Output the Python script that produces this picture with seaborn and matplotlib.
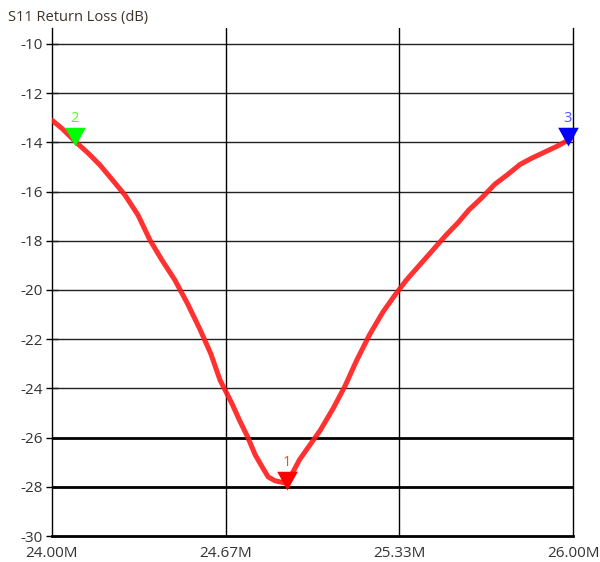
import matplotlib
matplotlib.use("Agg")
import matplotlib.pyplot as plt
import seaborn as sns
import pandas as pd
from matplotlib.path import Path
from matplotlib.markers import MarkerStyle

# S11 sweep, frequency in MHz, return loss in dB
freq_mhz = [24.000, 24.040, 24.088, 24.140, 24.184, 24.230, 24.280, 24.330, 24.376,
            24.420, 24.472, 24.520, 24.568, 24.610, 24.645, 24.690, 24.720, 24.750,
            24.780, 24.810, 24.830, 24.855, 24.875, 24.898, 24.925, 24.950, 24.990,
            25.030, 25.080, 25.125, 25.170, 25.220, 25.270, 25.317, 25.360, 25.410,
            25.460, 25.510, 25.560, 25.600, 25.650, 25.700, 25.750, 25.796, 25.840,
            25.890, 25.940, 26.000]
s11_db = [-13.10, -13.45, -13.95, -14.45, -14.92, -15.50, -16.14, -16.95, -17.97,
          -18.75, -19.60, -20.55, -21.60, -22.60, -23.66, -24.60, -25.30, -25.95,
          -26.70, -27.25, -27.60, -27.75, -27.80, -27.85, -27.40, -26.90, -26.30,
          -25.70, -24.80, -23.90, -22.85, -21.80, -20.90, -20.20, -19.60, -19.00,
          -18.40, -17.80, -17.25, -16.75, -16.25, -15.70, -15.30, -14.90, -14.65,
          -14.40, -14.15, -13.80]

marker_ids = ["1", "2", "3"]
marker_freq = [24.902, 24.088, 25.980]
marker_db = [-28.15, -14.15, -14.15]
marker_colors = ["#ff0000", "#00ff00", "#0000ff"]
label_colors = ["#ff4a10", "#55ff22", "#5555ff"]

x_ticks = [24.00, 24.6667, 25.3333, 26.00]
x_tick_labels = ["24.00M", "24.67M", "25.33M", "26.00M"]
y_ticks = list(range(-30, -9, 2))
grid_thin = [-10, -12, -14, -16, -18, -20, -22, -24]
grid_thick = [-26, -28]

sns.set_theme(style="white")
plt.rcParams["font.family"] = ["Open Sans", "DejaVu Sans"]

fig = plt.figure(figsize=(6.0, 5.62), dpi=100)
ax = fig.add_axes([52 / 600, 1 - 536 / 562, (573 - 52) / 600, (536 - 28) / 562])

df = pd.DataFrame({"freq": freq_mhz, "s11": s11_db})
sns.lineplot(data=df, x="freq", y="s11", ax=ax, color="#ff1a1a", linewidth=3.6,
             alpha=0.9, zorder=5, solid_capstyle="round")

for v in grid_thin:
    ax.axhline(v, color="#222222", linewidth=1.0, zorder=1)
for v in grid_thick:
    ax.axhline(v, color="black", linewidth=2.0, zorder=1)
for v in x_ticks[1:-1]:
    ax.axvline(v, color="black", linewidth=1.0, zorder=1)

# Downward triangle with its tip on the measured point
tri = MarkerStyle(Path([(-0.55, 1.0), (0.55, 1.0), (0.0, 0.0), (-0.55, 1.0)],
                       [Path.MOVETO, Path.LINETO, Path.LINETO, Path.CLOSEPOLY]))
for mid, f, d, mc, lc in zip(marker_ids, marker_freq, marker_db, marker_colors, label_colors):
    ax.plot([f], [d], marker=tri, markersize=27, color=mc, markeredgewidth=0,
            linestyle="none", zorder=7, clip_on=False)
    ax.annotate(mid, (f, d), xytext=(0, 14.5), textcoords="offset points",
                ha="center", va="bottom", color=lc, fontsize=10.5, zorder=8,
                annotation_clip=False)

ax.set_xlim(24.0, 26.0)
ax.set_ylim(-30, -9.35)
ax.set_xticks(x_ticks)
ax.set_xticklabels(x_tick_labels)
ax.set_yticks(y_ticks)
ax.set_yticklabels([str(v) for v in y_ticks])
ax.set_xlabel("")
ax.set_ylabel("")
ax.tick_params(axis="both", which="both", length=9, width=1, color="black",
               labelsize=11, labelcolor="#333333", direction="inout")
ax.tick_params(axis="x", pad=3)
ax.tick_params(axis="y", left=True, pad=2)

for side in ["left", "right"]:
    ax.spines[side].set_visible(True)
    ax.spines[side].set_color("black")
    ax.spines[side].set_linewidth(1.0)
ax.spines["bottom"].set_color("black")
ax.spines["bottom"].set_linewidth(2.0)
ax.spines["top"].set_visible(False)

fig.text(8 / 600, 1 - 18 / 562, "S11 Return Loss (dB)", ha="left", va="center",
         fontsize=10.5, color="#3d3328")

fig.savefig("out.png", dpi=100, facecolor="white")
